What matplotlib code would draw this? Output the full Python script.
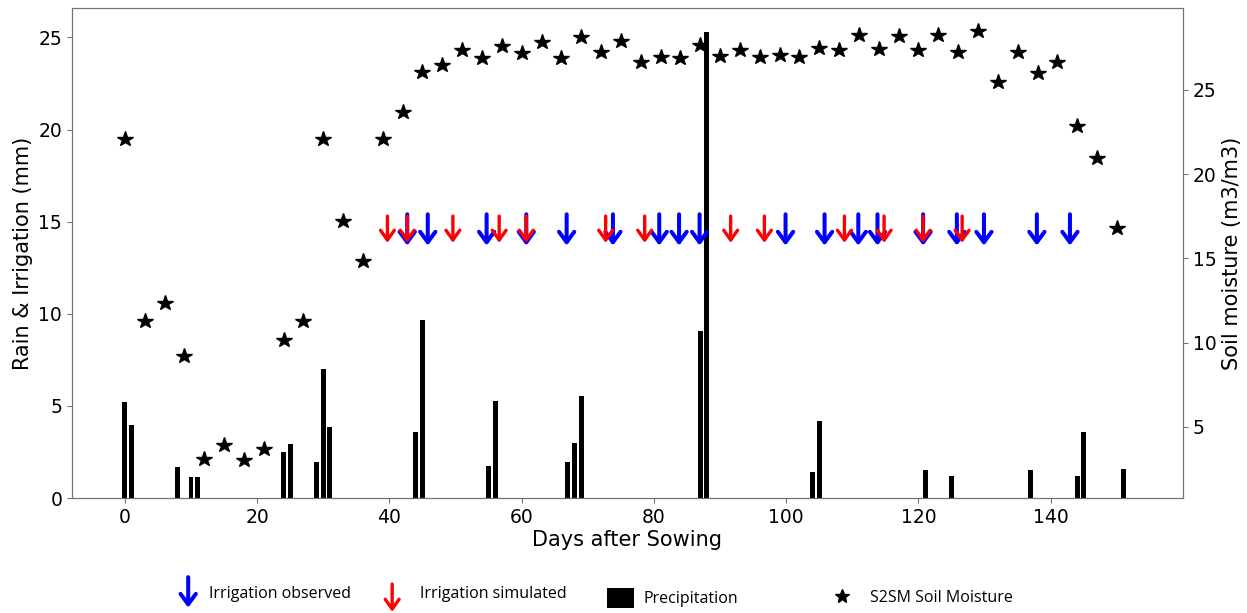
import numpy as np
import matplotlib.pyplot as plt
from matplotlib.lines import Line2D
from matplotlib.patches import FancyArrowPatch, Patch
from matplotlib.legend_handler import HandlerBase

# rain events (day, mm)
rain_days = [0, 1, 8, 10, 11, 24, 25, 29, 30, 31, 44, 45, 55, 56, 67, 68, 69,
             87, 88, 104, 105, 121, 125, 137, 144, 145, 151]
rain_mm = [5.2, 3.95, 1.7, 1.15, 1.15, 2.47, 2.92, 1.93, 6.98, 3.83, 3.56, 9.65,
           1.75, 5.24, 1.93, 3.01, 5.54, 9.06, 25.3, 1.42, 4.19, 1.52, 1.2, 1.52,
           1.2, 3.59, 1.57]

# S2SM soil moisture (every 3 days)
sm_days = [0, 3, 6, 9, 12, 15, 18, 21, 24, 27, 30, 33, 36, 39, 42, 45, 48, 51,
           54, 57, 60, 63, 66, 69, 72, 75, 78, 81, 84, 87, 90, 93, 96, 99, 102,
           105, 108, 111, 114, 117, 120, 123, 126, 129, 132, 135, 138, 141, 144,
           147, 150]
sm_values = [22.07, 11.3, 12.36, 9.2, 3.06, 3.91, 3.02, 3.66, 10.15, 11.3, 22.07,
             17.2, 14.84, 22.07, 23.7, 26.08, 26.48, 27.37, 26.87, 27.6, 27.17,
             27.86, 26.87, 28.16, 27.23, 27.92, 26.64, 26.94, 26.87, 27.67, 27.03,
             27.37, 26.94, 27.07, 26.94, 27.47, 27.37, 28.26, 27.43, 28.22, 27.37,
             28.26, 27.23, 28.52, 25.45, 27.27, 26.02, 26.67, 22.86, 20.97, 16.78]

# irrigation dates
irr_obs_days = [42.7, 45.8, 54.7, 60.7, 66.8, 73.8, 80.8, 83.8, 86.9, 99.9, 105.8,
                110.9, 113.8, 120.7, 125.8, 129.9, 137.9, 142.9]
irr_sim_days = [39.7, 42.7, 49.6, 56.6, 60.7, 72.7, 78.6, 91.6, 96.7, 108.8, 114.8,
                120.7, 126.6]

# arrow extent on the left axis (mm)
obs_tail, obs_tip = 15.4, 13.7
sim_tail, sim_tip = 15.3, 13.85

obs_style = '->,head_width=0.55,head_length=0.75'
sim_style = '->,head_width=0.5,head_length=0.7'


class ArrowHandler(HandlerBase):
    def __init__(self, style, up, down, **kw):
        super().__init__(**kw)
        self.style = style
        self.up = up
        self.down = down

    def create_artists(self, legend, orig_handle, xdescent, ydescent, width,
                       height, fontsize, trans):
        x = width / 2 - xdescent
        cy = height / 2 - ydescent
        arr = FancyArrowPatch((x, cy + self.up), (x, cy - self.down),
                              arrowstyle=self.style, mutation_scale=10,
                              color=orig_handle.get_color(),
                              lw=orig_handle.get_linewidth(),
                              shrinkA=0, shrinkB=0, transform=trans)
        return [arr]


plt.rcParams['font.size'] = 13.5

fig = plt.figure(figsize=(12.47, 6.13), dpi=100)
ax = fig.add_axes([0.0577, 0.1876, 0.891, 0.7994])
ax2 = ax.twinx()
ax.set_zorder(ax2.get_zorder() + 1)
ax.patch.set_visible(False)

ax2.plot(sm_days, sm_values, linestyle='none', marker='*', color='black',
         markersize=11.5)

ax.bar(rain_days, rain_mm, width=0.75, color='black')

for d in irr_obs_days:
    ax.annotate('', xy=(d, obs_tip), xytext=(d, obs_tail),
                arrowprops=dict(arrowstyle=obs_style, color='blue', lw=2.9,
                                shrinkA=0, shrinkB=0, mutation_scale=10))
for d in irr_sim_days:
    ax.annotate('', xy=(d, sim_tip), xytext=(d, sim_tail),
                arrowprops=dict(arrowstyle=sim_style, color='red', lw=2.4,
                                shrinkA=0, shrinkB=0, mutation_scale=10))

ax.set_xlim(-8, 160)
ax.set_ylim(0, 26.6)
ax2.set_ylim(0.77, 29.87)
ax.set_xticks([0, 20, 40, 60, 80, 100, 120, 140])
ax.set_yticks([0, 5, 10, 15, 20, 25])
ax2.set_yticks([5, 10, 15, 20, 25])

ax.set_xlabel('Days after Sowing', fontsize=15, labelpad=2)
ax.set_ylabel('Rain & Irrigation (mm)', fontsize=15)
ax2.set_ylabel('Soil moisture (m3/m3)', fontsize=15)

for a in (ax, ax2):
    for s in a.spines.values():
        s.set_color('0.45')
    a.tick_params(color='0.45')

# legend below the plot
lp = {'family': 'Open Sans', 'size': 11.5}
h_obs = Line2D([], [], color='blue', lw=2.9)
h_sim = Line2D([], [], color='red', lw=2.4)
h_pr = Patch(facecolor='black')
h_sm = Line2D([], [], linestyle='none', marker='*', color='black', markersize=10)

leg_y = 1 - 594 / 613
common = dict(loc='center left', bbox_transform=fig.transFigure, frameon=False,
              prop=lp, borderaxespad=0, borderpad=0)
fig.legend([h_obs], ['Irrigation observed'], bbox_to_anchor=(179 / 1247, leg_y),
           handlelength=1.15, handletextpad=0.75,
           handler_map={h_obs: ArrowHandler(obs_style, 11, 11)}, **common)
fig.legend([h_sim], ['Irrigation simulated'], bbox_to_anchor=(383 / 1247, leg_y),
           handlelength=1.15, handletextpad=1.15,
           handler_map={h_sim: ArrowHandler(sim_style, 6, 14)}, **common)
fig.legend([h_pr], ['Precipitation'], bbox_to_anchor=(607 / 1247, 1 - 598 / 613),
           handlelength=1.7, handleheight=1.6, handletextpad=0.6, **common)
fig.legend([h_sm], ['S2SM Soil Moisture'], bbox_to_anchor=(833 / 1247, 1 - 598 / 613),
           handlelength=1.15, handletextpad=1.15, **common)

fig.savefig('out.png', dpi=100)
